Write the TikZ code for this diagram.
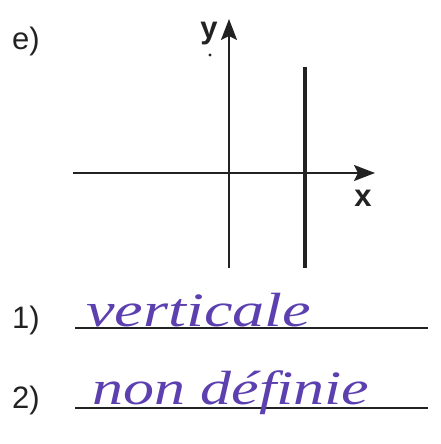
\documentclass[tikz,border=0pt]{standalone}
\usepackage{fontspec}
\setmainfont{Liberation Sans}
\newfontfamily\handfont{Liberation Serif}
\usetikzlibrary{arrows.meta}
\definecolor{ink}{RGB}{34,34,34}
\definecolor{pen}{RGB}{92,64,176}
\begin{document}
\begin{tikzpicture}[x=1pt,y=-1pt,
  axis/.style={draw=ink,line width=2pt,-{Stealth[length=21pt,width=16pt,inset=4pt]}},
  answerline/.style={draw=ink,line width=2pt},
  vline/.style={draw=ink,line width=4.5pt},
  lbl/.style={font=\fontsize{31}{31}\selectfont,text=ink,inner sep=0pt},
  axlbl/.style={font=\bfseries\fontsize{31}{31}\selectfont,text=ink,inner sep=0pt},
  hand/.style={font=\handfont\itshape\fontsize{48}{48}\selectfont,text=pen,inner sep=0pt,anchor=base west}]
\useasboundingbox (0,0) rectangle (441,444);
% labels
\node[lbl,anchor=base west] (e) at (12,49) {e)};
\node[lbl,anchor=base west] (n1) at (12,328) {1)};
\node[lbl,anchor=base west] (n2) at (12,408) {2)};
% axes
\coordinate (ybot) at (229,268);
\coordinate (ytop) at (229,19);
\coordinate (xl) at (73,173);
\coordinate (xr) at (375,173);
\draw[axis] (xl) -- (xr);
\draw[axis] (ybot) -- (ytop);
\node[axlbl,anchor=base] (ylab) at (209,38) {y};
\fill[ink] (210,55) circle (1.6pt);
\node[axlbl,anchor=base] (xlab) at (363,206) {x};
% vertical line x = const
\coordinate (vt) at (305,67);
\coordinate (vb) at (305,268);
\draw[vline] (vt) -- (vb);
% answer lines
\coordinate (a1l) at (75,328);
\coordinate (a1r) at (428,328);
\coordinate (a2l) at (75,408);
\coordinate (a2r) at (428,408);
\draw[answerline] (a1l) -- (a1r);
\draw[answerline] (a2l) -- (a2r);
% handwritten answers
\node[hand,xscale=1.34] (ans1) at (86,326) {verticale};
\node[hand,xscale=1.29] (ans2) at (92,404) {non définie};
\end{tikzpicture}
\end{document}
